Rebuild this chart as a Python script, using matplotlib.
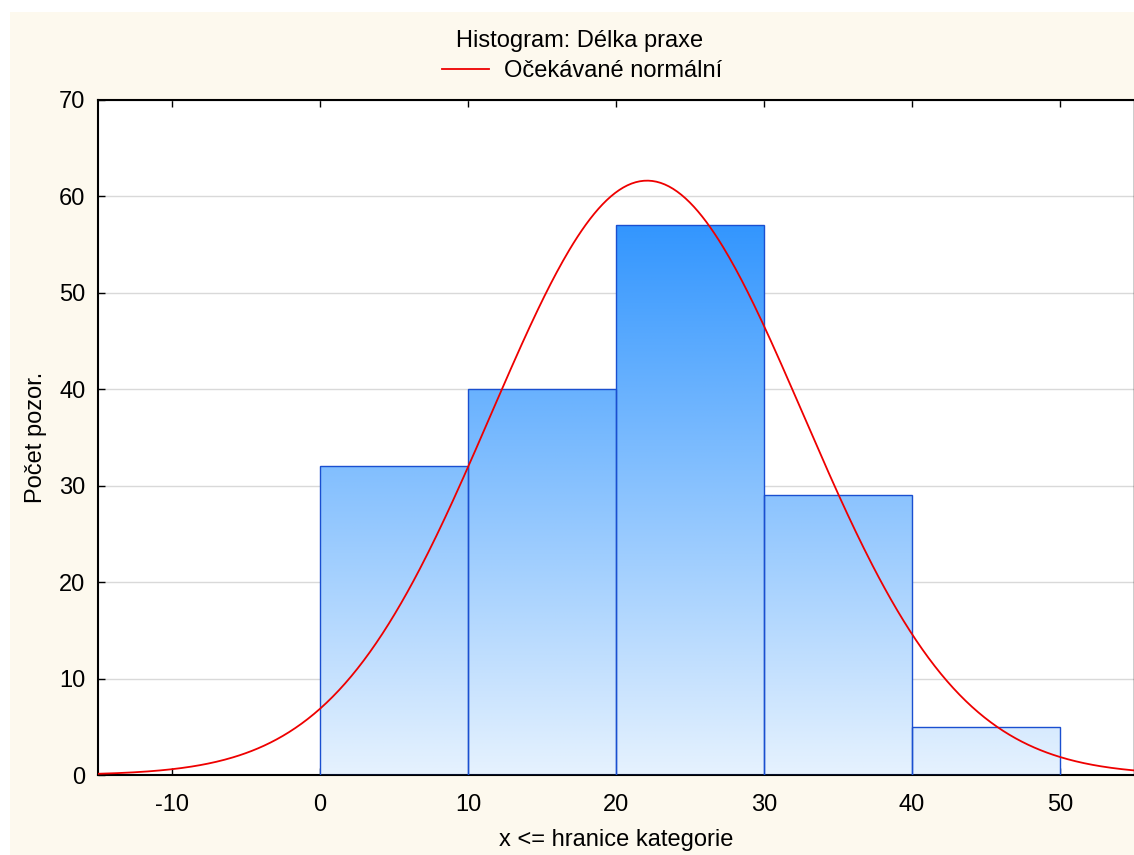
import numpy as np
import matplotlib
matplotlib.use("Agg")
import matplotlib.pyplot as plt
from matplotlib.colors import LinearSegmentedColormap
from matplotlib.patches import Rectangle

plt.rcParams['font.family'] = ['Liberation Sans', 'DejaVu Sans']
plt.rcParams['axes.unicode_minus'] = False

# data
hranice = [0, 10, 20, 30, 40, 50]      # bin edges
pocty = [32, 40, 57, 29, 5]            # counts
prumer = 22.1                           # mean of fitted normal
smer_odch = 10.55                       # std dev of fitted normal
xticks = [-10, 0, 10, 20, 30, 40, 50]
yticks = [0, 10, 20, 30, 40, 50, 60, 70]

W, H = 1134, 855
fig = plt.figure(figsize=(W / 100, H / 100), dpi=100, facecolor='white')
# cream panel (white strip at top and left)
fig.patches.append(Rectangle((10 / W, 0), 1 - 10 / W, 1 - 12 / H,
                             transform=fig.transFigure, facecolor='#fdf9ee',
                             edgecolor='none', zorder=-10))

ax = fig.add_axes([98 / W, 1 - 775 / H, (1134 - 98) / W, (775 - 100) / H])
ax.set_facecolor('white')

# gradient bars
cmap = LinearSegmentedColormap.from_list('modra', ['#e6f2fe', '#3396fe'])
grad = np.linspace(0, 1, 256).reshape(-1, 1)
vmax = max(pocty)
for i, c in enumerate(pocty):
    x0, x1 = hranice[i], hranice[i + 1]
    im = ax.imshow(grad, extent=[x0, x1, 0, vmax], origin='lower', cmap=cmap,
                   aspect='auto', zorder=2, interpolation='bilinear')
    rect = Rectangle((x0, 0), x1 - x0, c, facecolor='none',
                     edgecolor='#1a4fd0', linewidth=1, zorder=3)
    ax.add_patch(rect)
    im.set_clip_path(rect)
ax.set_xlim(-15, 55)
ax.set_ylim(0, 70)

# expected normal
sirka = hranice[1] - hranice[0]
xs = np.linspace(-15, 55, 500)
ys = sum(pocty) * sirka / (smer_odch * np.sqrt(2 * np.pi)) * np.exp(-(xs - prumer) ** 2 / (2 * smer_odch ** 2))
line, = ax.plot(xs, ys, color='#ee0000', linewidth=1.3, zorder=4)

ax.yaxis.grid(True, color='#d9d9d9', linewidth=1, zorder=0)
ax.set_axisbelow(True)
ax.set_xticks(xticks)
ax.set_yticks(yticks)
ax.tick_params(direction='in', length=5, labelsize=17, top=True, right=False, width=1)
ax.tick_params(axis='x', pad=14)
ax.tick_params(axis='y', pad=9)
for s in ['left', 'bottom', 'top']:
    ax.spines[s].set_linewidth(1.5)
ax.spines['right'].set_linewidth(1)

ax.set_xlabel('x <= hranice kategorie', fontsize=17, labelpad=9)
ax.set_ylabel('Počet pozor.', fontsize=17, labelpad=9)

fig.text(580 / W, 1 - 41 / H, 'Histogram: Délka praxe', ha='center', va='center', fontsize=17)
fig.legend([line], ['Očekávané normální'], loc='center', bbox_to_anchor=(582 / W, 1 - 71 / H),
           frameon=False, fontsize=17, handlelength=2.0, handletextpad=0.6)

fig.savefig('out.png', dpi=100, facecolor=fig.get_facecolor())
